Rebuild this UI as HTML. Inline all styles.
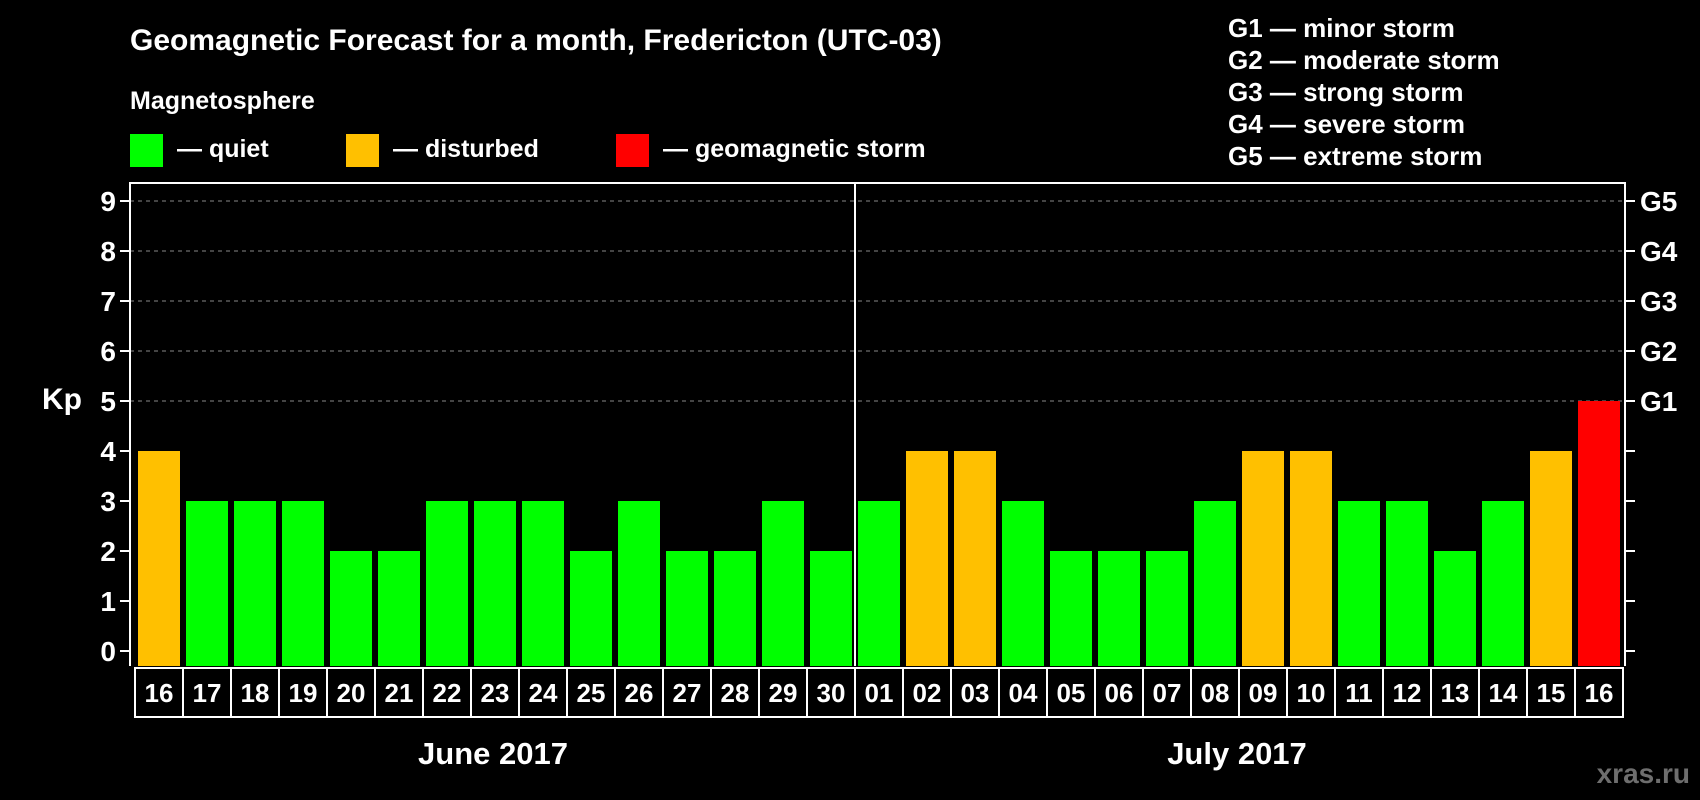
<!DOCTYPE html>
<html><head><meta charset="utf-8"><style>
html,body{margin:0;padding:0;background:#000;}
svg{display:block;font-family:"Liberation Sans",Arial,sans-serif;font-weight:bold;}
</style></head><body>
<svg id="chart" width="1700" height="800" viewBox="0 0 1700 800">
<text x="130" y="50" fill="#fff" font-size="30">Geomagnetic Forecast for a month, Fredericton (UTC-03)</text>
<text x="130" y="109" fill="#fff" font-size="25">Magnetosphere</text>
<rect x="130" y="134" width="33" height="33" fill="#00ff00"/>
<text x="177" y="157" fill="#fff" font-size="25">— quiet</text>
<rect x="346" y="134" width="33" height="33" fill="#ffc000"/>
<text x="393" y="157" fill="#fff" font-size="25">— disturbed</text>
<rect x="616" y="134" width="33" height="33" fill="#ff0000"/>
<text x="663" y="157" fill="#fff" font-size="25">— geomagnetic storm</text>
<g font-size="26" fill="#fff">
<text x="1228" y="37">G1 — minor storm</text>
<text x="1228" y="69">G2 — moderate storm</text>
<text x="1228" y="101">G3 — strong storm</text>
<text x="1228" y="133">G4 — severe storm</text>
<text x="1228" y="165">G5 — extreme storm</text>
</g>
<text x="42" y="409" fill="#fff" font-size="30">Kp</text>
<g id="axes"></g>
<g id="bars"></g>
<g id="labels"></g>
<text x="493" y="764" fill="#fff" font-size="31" text-anchor="middle">June 2017</text>
<text x="1237" y="764" fill="#fff" font-size="31" text-anchor="middle">July 2017</text>
<text x="1690" y="783" fill="#6e6e6e" font-size="28" text-anchor="end">xras.ru</text>
</svg>
<script>
const days = ["16","17","18","19","20","21","22","23","24","25","26","27","28","29","30","01","02","03","04","05","06","07","08","09","10","11","12","13","14","15","16"];
const kpValues = [4,3,3,3,2,2,3,3,3,2,3,2,2,3,2,3,4,4,3,2,2,2,3,4,4,3,3,2,3,4,5];
const yTicks = [0,1,2,3,4,5,6,7,8,9];
const gLabels = ["G1","G2","G3","G4","G5"];
const NS="http://www.w3.org/2000/svg";
const pLeft=130,pRight=1625,plotTop=183,y0=651,unit=50,pitch=48,barW=42,barStart=138;
const yS=v=>y0-v*unit;
const xS=i=>barStart+i*pitch;
function mk(tag,attrs,parent){const e=document.createElementNS(NS,tag);for(const k in attrs)e.setAttribute(k,attrs[k]);parent.appendChild(e);return e;}
const axes=document.getElementById('axes'),bars=document.getElementById('bars'),labels=document.getElementById('labels');
yTicks.forEach(t=>{
  if(t>=5){const g=mk('line',{x1:pLeft,x2:pRight,y1:yS(t),y2:yS(t),stroke:'#888','stroke-dasharray':'4,4','stroke-width':1},axes);
  
  }
  const tk=mk('line',{x1:pLeft-10,x2:pLeft,y1:yS(t),y2:yS(t),stroke:'#fff','stroke-width':2},axes);
  
  
  const rt=mk('line',{x1:pRight,x2:pRight+10,y1:yS(t),y2:yS(t),stroke:'#fff','stroke-width':2},axes);
  
  
  const tx=mk('text',{x:pLeft-14,y:yS(t)+10,fill:'#fff','font-size':28,'text-anchor':'end'},axes);
  tx.textContent=t;
  
  
});
gLabels.forEach((g,i)=>{
  const tx=mk('text',{x:pRight+15,y:yS(5+i)+10,fill:'#fff','font-size':28},axes);
  tx.textContent=g;
  
  
});
kpValues.forEach((v,i)=>{
  const col=v>=5?'#ff0000':(v>=4?'#ffc000':'#00ff00');
  const r=mk('rect',{x:xS(i),y:yS(v),width:barW,height:v*unit+15,fill:col},bars);
  
  
});
const frame=mk('polyline',{points:`${pLeft},${y0+15} ${pLeft},${plotTop} ${pRight},${plotTop} ${pRight},${y0+15}`,fill:'none',stroke:'#fff','stroke-width':2},axes);


const div=mk('line',{x1:xS(15)-3,x2:xS(15)-3,y1:plotTop,y2:y0+15,stroke:'#fff','stroke-width':2},axes);


const lt=y0+17,lb=717;
const box=mk('rect',{x:pLeft+5,y:lt,width:xS(days.length-1)+barW+3-(pLeft+5),height:lb-lt,fill:'none',stroke:'#fff','stroke-width':2},labels);


days.forEach((d,i)=>{
  if(i>0){const l=mk('line',{x1:xS(i)-3,x2:xS(i)-3,y1:lt,y2:lb,stroke:'#fff','stroke-width':2},labels);
  
  }
  const t=mk('text',{x:xS(i)+barW/2,y:lt+34,fill:'#fff','font-size':26,'text-anchor':'middle'},labels);
  t.textContent=d;
  
  
});
</script>
</body></html>
